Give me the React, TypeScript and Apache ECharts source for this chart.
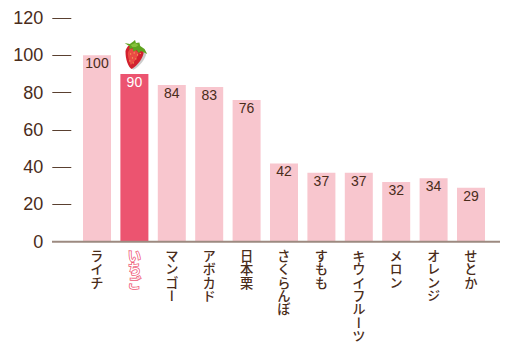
import React, { useEffect, useRef } from "react";
import * as echarts from "echarts";

const categories = ["ライチ", "いちご", "マンゴー", "アボカド", "日本栗", "さくらんぼ", "すもも", "キウイフルーツ", "メロン", "オレンジ", "せとか"];
const values = [100, 90, 84, 83, 76, 42, 37, 37, 32, 34, 29];
const highlighted = "いちご";

const strawberrySvg = `<svg xmlns="http://www.w3.org/2000/svg" width="104" height="120" viewBox="0 0 26 30">
<path d="M4 7 C9 5 19 8 24 13 C24 18 16 27 9 29.800 C5 28 1.500 20 2 12Z" fill="#999" opacity="0.5" transform="translate(1,0)"/>
<path d="M4 6 C9 4 17 7 22 12 C22 17 15 26 8 29 C4 27 .8 19 1 11 C1.500 9 3 7 4 6Z" fill="#d2202e"/>
<path d="M6 9 C10 8 15 11 16 14 C14 19 10 23 7 25 C5 20 3 15 4 12Z" fill="#ea4a44"/>
<g fill="#f4c860"><circle cx="7" cy="14" r=".6"/><circle cx="11" cy="13" r=".6"/><circle cx="15" cy="15" r=".6"/><circle cx="9" cy="18" r=".6"/><circle cx="13" cy="19" r=".6"/><circle cx="6" cy="21" r=".6"/><circle cx="10" cy="23" r=".6"/><circle cx="18" cy="13.500" r=".6"/></g>
<path d="M0 3 L6 4 L10 1.500 L12 0 L13 3 L17 2.500 L18 6 L23 9 L26 14 L19 11 L16 13 L14 10 L10 11.500 L9 8 L5 9.500 L6 6.500Z" fill="#5fa31f"/>
<path d="M7 5 L12 3 L16 5 L13 7 L9 7Z" fill="#86c23a"/>
</svg>`;

export default function App() {
  const ref = useRef<HTMLDivElement>(null);
  useEffect(() => {
    const el = ref.current!;
    const chart = echarts.init(el, undefined, { renderer: "svg" });
    const uprightLabels = () => {
      el.querySelectorAll("text").forEach((t) => {
        if (categories.includes(t.textContent || "")) {
          t.setAttribute("writing-mode", "vertical-rl");
          t.setAttribute("text-anchor", "start");
          t.style.paintOrder = "stroke";
        }
      });
    };
    chart.on("finished", uprightLabels);
    const gridLeft = 78.3;
    const gridTop = 18;
    const gridHeight = 223.7;
    chart.setOption({
      animation: false,
      grid: { left: gridLeft, top: gridTop, width: 411.4, height: gridHeight },
      xAxis: {
        type: "category",
        data: categories.map((c) =>
          c === highlighted
            ? { value: c, textStyle: { color: "#ffffff", textBorderColor: "#ee5a78", textBorderWidth: 1.6 } }
            : c
        ),
        axisLine: { show: false },
        axisTick: { show: false },
        axisLabel: {
          interval: 0,
          margin: 1,
          color: "#4a2c1a",
          fontSize: 13.3,
          fontWeight: 500,
          fontFamily: "Noto Sans CJK JP",
          align: "center",
          verticalAlign: "top",
        },
      },
      yAxis: {
        type: "value",
        min: 0,
        max: 120,
        interval: 20,
        offset: 7,
        axisLine: { show: false },
        axisTick: { show: true, length: 19, lineStyle: { color: "#5a4030", width: 1 } },
        splitLine: { show: false },
        axisLabel: { margin: 28, color: "#4a2c1a", fontSize: 18, fontFamily: "Liberation Sans" },
      },
      series: [
        {
          type: "bar",
          barWidth: 28,
          data: values.map((v, i) => ({
            value: v,
            itemStyle: { color: categories[i] === highlighted ? "#ec5470" : "#f8c6ce" },
            label: { color: categories[i] === highlighted ? "#ffffff" : "#4a2c1a" },
          })),
          label: {
            show: true,
            position: "insideTop",
            distance: 1,
            fontSize: 14,
            fontFamily: "Liberation Sans",
          },
          markPoint: {
            silent: true,
            symbol: "image://data:image/svg+xml;utf8," + encodeURIComponent(strawberrySvg),
            symbolSize: [26, 30],
            symbolOffset: [1.5, -19],
            label: { show: false },
            data: [{ coord: [highlighted, values[categories.indexOf(highlighted)]] }],
          },
        },
      ],
      graphic: [
        {
          type: "line",
          shape: { x1: 52, y1: gridTop + gridHeight, x2: 500, y2: gridTop + gridHeight },
          style: { stroke: "#9c8a80", lineWidth: 2 },
          z: 10,
        },
      ],
    });
    uprightLabels();
    return () => chart.dispose();
  }, []);
  return <div ref={ref} style={{ position: "absolute", left: 0, top: 0, width: 521, height: 352 }} />;
}
